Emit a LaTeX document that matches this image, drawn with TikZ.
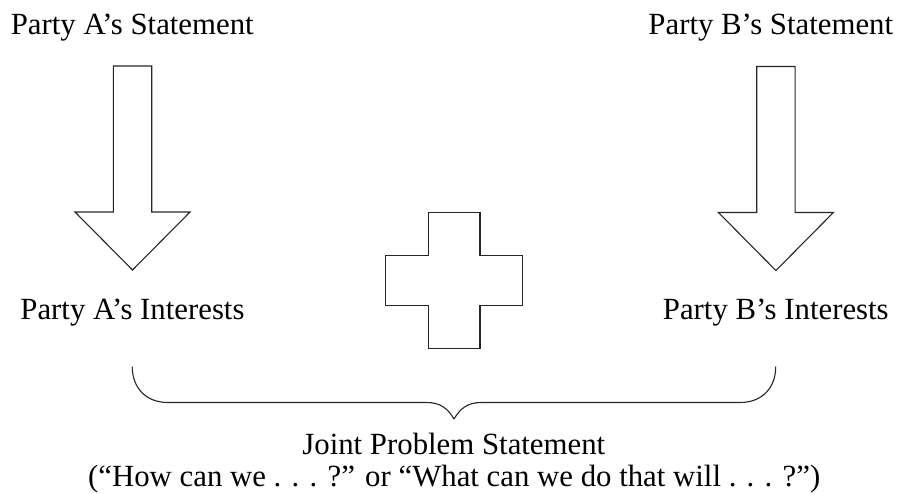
\documentclass[tikz,border=0pt]{standalone}
\usepackage{fontspec}
\setmainfont{Liberation Serif}
\begin{document}
\begin{tikzpicture}[x=1pt,y=-1pt,
  label/.style={font=\fontsize{30.8}{31.7}\selectfont, inner sep=0pt, anchor=base},
  outline/.style={draw=black!85, line width=1.1pt, line join=miter},
  pics/blockarrow/.style={code={
    \draw[outline] (-19.2,0) -- (19.2,0) -- (19.2,146) -- (57.5,146)
      -- (0,204) -- (-57.5,146) -- (-19.2,146) -- cycle;
  }}]
\useasboundingbox (0,0) rectangle (898,494);

% labels
\node[label] (sa) at (132.3,35) {Party A’s Statement};
\node[label] (sb) at (770.8,35) {Party B’s Statement};
\node[label] (ia) at (132.5,320) {Party A’s Interests};
\node[label] (ib) at (775.8,320) {Party B’s Interests};
\node[label] (joint) at (453.8,455) {Joint Problem Statement};
\node[label] (question) at (454.2,486.7) {(“How can we . . . ?” or “What can we do that will . . . ?”)};

% block arrows from statement to interests
\coordinate (atop) at (132.5,66);
\coordinate (btop) at (775.9,66.5);
\pic at (atop) {blockarrow};
\pic at (btop) {blockarrow};

% plus sign
\coordinate (plus) at (454.2,280.5);
\draw[outline] (plus)
  ++(-25.8,-67.8) -- ++(51.6,0) -- ++(0,42.6) -- ++(42.6,0) -- ++(0,50.4)
  -- ++(-42.6,0) -- ++(0,42.6) -- ++(-51.6,0) -- ++(0,-42.6) -- ++(-42.6,0)
  -- ++(0,-50.4) -- ++(42.6,0) -- cycle;

% brace joining both interests
\coordinate (bl) at (132.3,366.7);
\coordinate (br) at (775.7,366.7);
\coordinate (tip) at (454,419);
\draw[outline, line join=round] (bl)
  .. controls (132.3,388) and (146,402.5) .. (168,402.5)
  -- (426.7,402.5)
  .. controls (441,402.5) and (448,409) .. (tip)
  .. controls (460,409) and (467,402.5) .. (481.3,402.5)
  -- (740,402.5)
  .. controls (762,402.5) and (775.7,388) .. (br);
\end{tikzpicture}
\end{document}
